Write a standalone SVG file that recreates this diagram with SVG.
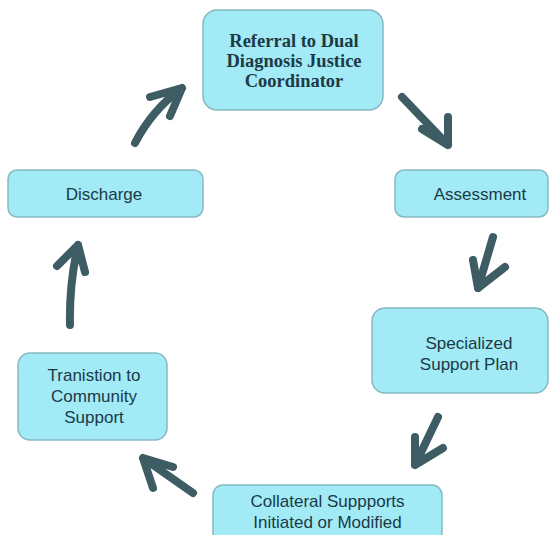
<svg xmlns="http://www.w3.org/2000/svg" width="550" height="535" viewBox="0 0 550 535">
<style>
.box{fill:#a2eaf6;stroke:#86b9c4;stroke-width:1.5}
.t{font-family:"Liberation Sans","Open Sans",sans-serif;font-size:17px;fill:#1a3a46;text-anchor:middle}
.tb{font-family:"Liberation Serif",serif;font-size:18.5px;font-weight:bold;fill:#1d3a44;text-anchor:middle}
.ar{fill:none;stroke:#3d5c63;stroke-width:8;stroke-linecap:round;stroke-linejoin:round}
</style>
<rect width="550" height="535" fill="#ffffff"/>
<g id="referral">
<rect class="box" x="203" y="10" width="180" height="100" rx="14"/>
<text class="tb" x="294" y="47">Referral to Dual</text>
<text class="tb" x="294" y="67">Diagnosis Justice</text>
<text class="tb" x="294" y="87">Coordinator</text>
</g>
<g id="assessment">
<rect class="box" x="395" y="170" width="153" height="47" rx="9"/>
<text class="t" x="480" y="200">Assessment</text>
</g>
<g id="plan">
<rect class="box" x="372" y="308" width="176" height="85" rx="13"/>
<text class="t" x="469" y="349">Specialized</text>
<text class="t" x="469" y="370">Support Plan</text>
</g>
<g id="collateral">
<rect class="box" x="213" y="485" width="229" height="60" rx="10"/>
<text class="t" x="327.5" y="507">Collateral Suppports</text>
<text class="t" x="327.5" y="528">Initiated or Modified</text>
</g>
<g id="transition">
<rect class="box" x="18" y="353" width="149" height="87" rx="12"/>
<text class="t" x="94" y="381">Tranistion to</text>
<text class="t" x="94" y="402">Community</text>
<text class="t" x="94" y="423">Support</text>
</g>
<g id="discharge">
<rect class="box" x="8" y="170" width="195" height="47" rx="9"/>
<text class="t" x="104" y="200">Discharge</text>
</g>
<g id="connectors">
<path class="ar" d="M402 97 L448 145 M448 117 L448 145 L422 129"/>
<path class="ar" d="M493 237 L478 288 M473 260 L478 288 L505 267"/>
<path class="ar" d="M438 417 L415 465 M415 437 L415 465 L443 448"/>
<path class="ar" d="M193 493 L143 458 M173 467 L143 458 L153 488"/>
<path class="ar" d="M70 325 Q69 285 78 245 M57 266 L78 245 L85 272"/>
<path class="ar" d="M135 143 Q152 110 182 88 M150 97 L182 88 L170 116"/>
</g>
</svg>
